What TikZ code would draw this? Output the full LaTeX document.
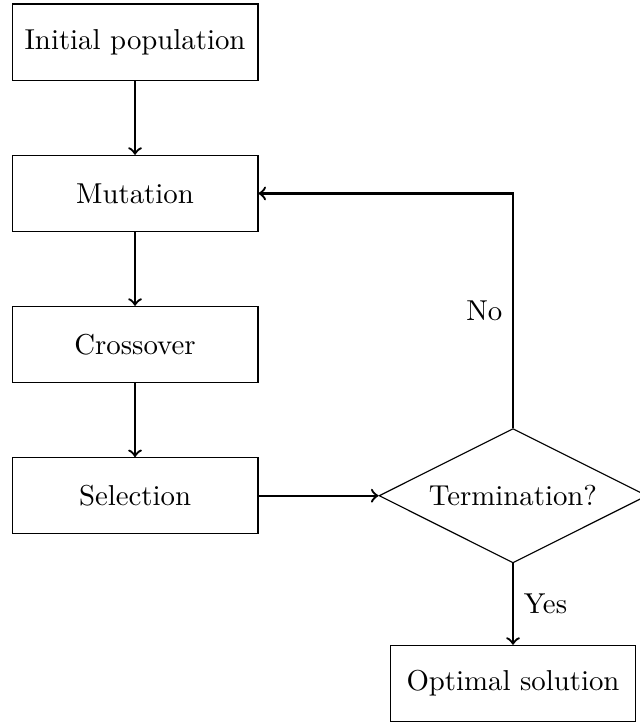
\documentclass[tikz,border=0pt]{standalone}
\usetikzlibrary{shapes.geometric}
\begin{document}
\begin{tikzpicture}[stagebox/.style={draw,minimum width=3cm,minimum height=0.93cm},
  decision/.style={draw,diamond,aspect=2,minimum width=3.27cm,minimum height=1.64cm,inner sep=0pt},
  flow/.style={->,thick}]
  \useasboundingbox (0,0) rectangle (7.81,-8.836);
  \node[stagebox] (init) at (1.648,-0.513) {Initial population};
  \node[stagebox] (mut) at (1.648,-2.361) {Mutation};
  \node[stagebox] (cross) at (1.648,-4.204) {Crossover};
  \node[stagebox] (sel) at (1.648,-6.05) {Selection};
  \node[decision] (term) at (6.261,-6.05) {Termination?};
  \node[stagebox] (opt) at (6.261,-8.341) {Optimal solution};
  \draw[flow] (init) -- (mut);
  \draw[flow] (mut) -- (cross);
  \draw[flow] (cross) -- (sel);
  \draw[flow] (sel) -- (term);
  \draw[flow] (term.south) -- node[right] {Yes} (opt);
  \draw[flow] (term.north) |- node[pos=0.25,left] {No} (mut.east);
\end{tikzpicture}
\end{document}
